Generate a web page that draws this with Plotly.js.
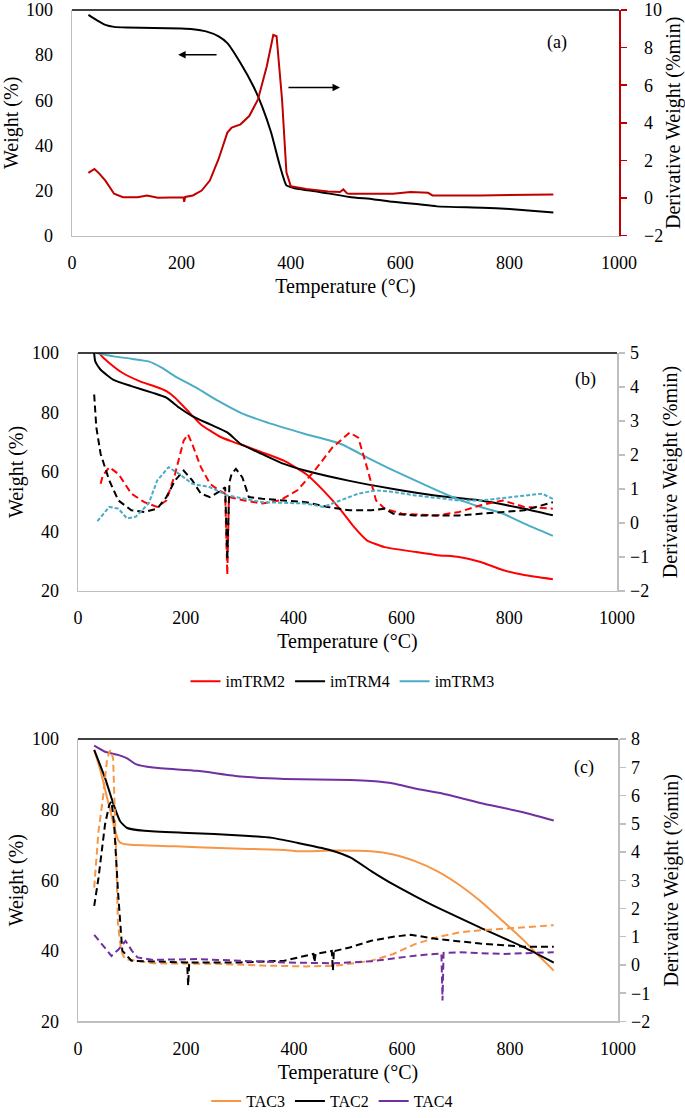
<!DOCTYPE html>
<html>
<head>
<meta charset="utf-8">
<script src="https://cdn.plot.ly/plotly-3.0.1.min.js"></script>
<style>html,body{margin:0;padding:0;background:#fff;}#chart{width:685px;height:1118px;}</style>
</head>
<body>
<div id="chart"></div>
<script>
// ---------- Panel (a) ----------
const aWeightT = [30,45,61,77,100,150,200,221,245,268,284,308,332,348,364,380,392,400,412,450,507,550,587,630,667,750,800,880];
const aWeight  = [97.8,95.5,93.4,92.5,92.2,92.0,91.8,91.5,90.5,88.3,85.3,76.5,66,57,45.7,31,22.3,21.6,20.8,19.5,17.2,16.2,15,14,13,12.4,11.8,10.3];
const aDerivT  = [30,41,50,61,77,93,120,137,157,200,204,205,207,221,237,252,268,284,292,308,324,340,356,368,374,384,392,400,428,468,490,496,503,507,587,619,651,659,747,880];
const aDeriv   = [1.34,1.55,1.3,0.93,0.23,0.05,0.05,0.14,0.02,0.04,0.04,-0.2,0.06,0.14,0.4,0.93,2.08,3.48,3.75,3.92,4.36,5.24,7.0,8.67,8.6,5.24,1.37,0.63,0.49,0.35,0.32,0.46,0.25,0.23,0.23,0.32,0.28,0.14,0.14,0.19];

// ---------- Panel (b) ----------
const bNames = ['imTRM2','imTRM4','imTRM3'];
const bRedT  = [40,42,58,83,115,147,164,180,204,228,261,285,309,342,382,423,455,488,512,536,569,625,666,707,747,788,828,881];
const bRed   = [100,99.4,96.7,93.3,90.5,88.5,87.2,85,80.5,76,72.1,70.3,68.8,66.6,63.8,59.3,53.8,47.1,41.5,37,34.7,33.1,32,31.4,29.7,27,25.3,23.9];
const bBlkT  = [30,32,42,66,99,139,164,188,212,245,277,302,342,382,423,504,585,666,747,828,881];
const bBlk   = [100,97.2,94.4,91,88.9,86.6,85,81.6,78.8,76,73.3,69.4,66,62.7,60.4,57,54.3,52,50.4,47.6,45.4];
const bCyaT  = [34,66,99,131,156,180,220,261,302,342,423,488,536,585,666,707,747,788,828,881];
const bCya   = [100,98.9,98.1,97.2,95,92.2,88.3,83.8,79.9,77.2,72.7,69.4,64.9,60.5,53.8,50.7,48.2,46,42.6,38.5];
const bRedDT = [42,46,58,75,99,123,147,164,180,196,204,212,228,245,261,273,277,280,309,342,374,407,439,472,504,520,536,553,569,601,666,707,747,788,828,881];
const bRedD  = [1.15,1.39,1.64,1.44,0.86,0.61,0.47,0.66,1.44,2.42,2.61,2.32,1.64,1.15,0.96,0.86,-1.53,0.76,0.66,0.57,0.66,0.96,1.54,2.22,2.66,2.51,1.64,0.66,0.42,0.27,0.22,0.32,0.52,0.66,0.47,0.42];
const bBlkDT = [30,34,42,58,75,99,123,147,164,180,196,212,228,245,261,273,277,281,285,293,305,317,342,423,463,504,544,569,585,625,707,788,828,881];
const bBlkD  = [3.78,2.81,2.03,1.25,0.66,0.37,0.32,0.42,0.76,1.25,1.54,1.25,0.86,0.76,0.91,1.05,-1.09,1.2,1.44,1.59,1.34,0.76,0.71,0.61,0.47,0.37,0.37,0.42,0.27,0.22,0.22,0.32,0.37,0.61];
const bCyaDT = [36,58,75,91,107,131,147,168,188,212,245,277,342,423,455,488,520,553,585,625,707,747,828,861,881];
const bCyaD  = [0.05,0.47,0.42,0.13,0.18,0.57,1.25,1.64,1.44,1.15,1.05,0.81,0.61,0.57,0.47,0.66,0.86,0.96,0.91,0.81,0.66,0.66,0.81,0.86,0.71];

// ---------- Panel (c) ----------
const cNames = ['TAC3','TAC2','TAC4'];
const cOrgT  = [30,42,54,66,74,80,91,180,261,382,406,471,543,584,624,665,705,745,786,826,850,881];
const cOrg   = [96.9,90.8,83.3,75.8,71.5,70.5,70.1,69.6,69.1,68.6,68.2,68.4,68.2,67.3,65.4,62.6,58.8,54.1,48.5,42.9,39.1,34.4];
const cBlkT  = [30,50,66,78,91,123,204,301,360,406,463,505,543,584,624,665,745,826,881];
const cBlk   = [96.9,89,81.4,76.7,74.8,74,73.4,72.7,72,70.6,68.7,66.4,62.6,58.8,55.5,52.3,46.6,41,36.7];
const cPurT  = [30,50,74,91,107,139,220,301,382,505,543,584,624,671,745,826,881];
const cPur   = [98.1,96.4,95.5,94.5,92.9,91.9,91,89.4,88.7,88.4,88.1,87.4,86,84.7,81.9,79.2,76.9];
const cOrgDT = [30,38,47,54,60,65,70,74,80,87,139,261,341,422,479,543,584,624,665,705,745,826,881];
const cOrgD  = [2.74,4.74,6.03,7.32,7.61,7.32,4.38,1.45,0.5,0.21,0.06,0.04,-0.02,-0.05,-0.02,0.15,0.39,0.74,0.98,1.15,1.23,1.33,1.41];
const cBlkDT = [30,38,50,58,62,67,74,82,99,196,202,204,206,212,301,382,422,436,438,440,470,472,474,476,503,543,584,616,665,745,826,881];
const cBlkD  = [2.09,3.09,4.97,5.68,5.79,4.97,2.62,0.51,0.15,0.09,0.09,-0.73,0.09,0.09,0.09,0.15,0.33,0.39,0.1,0.39,0.5,-0.2,0.55,0.5,0.62,0.86,1.0,1.07,0.92,0.76,0.65,0.65];
const cPurDT = [30,45,62,75,88,100,110,139,220,301,382,471,543,624,671,673,675,677,705,786,881];
const cPurD  = [1.07,0.7,0.32,0.55,0.85,0.5,0.27,0.18,0.21,0.15,0.09,0.06,0.13,0.33,0.41,0.41,-1.26,0.43,0.45,0.39,0.45];

const xTicks = [0,200,400,600,800,1000];
const FONT = 'Liberation Serif';
const GRAY = '#bfbfbf';

function solid(x, y, color, xa, ya, name, legend, show) {
  return {x:x, y:y, xaxis:xa, yaxis:ya, type:'scatter', mode:'lines', name:name,
    line:{color:color, width:2, shape:'spline', smoothing:0.5},
    showlegend:!!show, legend:legend, hoverinfo:'skip'};
}
function dashed(x, y, color, xa, ya, dash) {
  return {x:x, y:y, xaxis:xa, yaxis:ya, type:'scatter', mode:'lines',
    line:{color:color, width:2, dash:dash || '7px,4px'}, showlegend:false, hoverinfo:'skip'};
}

const traces = [
  solid(aWeightT, aWeight, '#000000', 'x', 'y', 'Weight', 'legend', false),
  {x:aDerivT, y:aDeriv, xaxis:'x', yaxis:'y2', type:'scatter', mode:'lines',
    line:{color:'#c00000', width:2}, showlegend:false, hoverinfo:'skip'},

  dashed(bRedDT, bRedD, '#ff0000', 'x2', 'y4'),
  dashed(bBlkDT, bBlkD, '#000000', 'x2', 'y4'),
  dashed(bCyaDT, bCyaD, '#4bacc6', 'x2', 'y4', '4px,2px'),
  solid(bRedT, bRed, '#ff0000', 'x2', 'y3', bNames[0], 'legend', true),
  solid(bBlkT, bBlk, '#000000', 'x2', 'y3', bNames[1], 'legend', true),
  solid(bCyaT, bCya, '#4bacc6', 'x2', 'y3', bNames[2], 'legend', true),

  dashed(cOrgDT, cOrgD, '#f79646', 'x3', 'y6'),
  dashed(cBlkDT, cBlkD, '#000000', 'x3', 'y6'),
  dashed(cPurDT, cPurD, '#7030a0', 'x3', 'y6'),
  solid(cOrgT, cOrg, '#f79646', 'x3', 'y5', cNames[0], 'legend2', true),
  solid(cBlkT, cBlk, '#000000', 'x3', 'y5', cNames[1], 'legend2', true),
  solid(cPurT, cPur, '#7030a0', 'x3', 'y5', cNames[2], 'legend2', true)
];

function xAxis(domain, anchor) {
  return {domain:domain, anchor:anchor, range:[0,1000], tickvals:xTicks, showgrid:false, zeroline:false,
    showline:true, linecolor:GRAY, linewidth:1.5, ticks:'', ticklabelstandoff:10,
    tickfont:{family:FONT, size:18, color:'#000'},
    title:{text:'Temperature (°C)', font:{family:FONT, size:20, color:'#000'}, standoff:7}};
}
function yLeft(domain, anchor, range, dtick) {
  return {domain:domain, anchor:anchor, range:range, dtick:dtick, showgrid:false, zeroline:false,
    showline:true, linecolor:GRAY, linewidth:1.5, ticks:'', ticklabelstandoff:14,
    tickfont:{family:FONT, size:18, color:'#000'},
    title:{text:'Weight (%)', font:{family:FONT, size:20, color:'#000'}, standoff:3}};
}
function yRight(over, anchor, range, dtick, color, standoff, tstand) {
  return {overlaying:over, anchor:anchor, side:'right', range:range, dtick:dtick, showgrid:false, zeroline:false,
    showline:true, linecolor:color, linewidth:1.5, ticks:'outside', ticklen:6, tickcolor:color, tickwidth:1.5,
    ticklabelstandoff:standoff,
    tickfont:{family:FONT, size:18, color:'#000'},
    title:{text:'Derivative Weight (%min)', font:{family:FONT, size:20, color:'#000'}, standoff:tstand}};
}

function topLine(xa, ya) {
  return {type:'line', xref:xa + ' domain', yref:ya + ' domain', x0:0, x1:1, y0:1, y1:1,
    line:{color:'#000', width:1.5}};
}

const layout = {
  width:685, height:1118, margin:{l:0, r:0, t:0, b:0}, paper_bgcolor:'#fff', plot_bgcolor:'#fff',
  font:{family:FONT, color:'#000'},
  xaxis:  xAxis([72/685, 619/685], 'y'),
  yaxis:  yLeft([1-237/1118, 1-10/1118], 'x', [0,100], 20),
  yaxis2: yRight('y', 'x', [-2,10], 2, '#c00000', 14, 9),
  xaxis2: xAxis([78/685, 617/685], 'y3'),
  yaxis3: yLeft([1-594/1118, 1-355/1118], 'x2', [20,100], 20),
  yaxis4: yRight('y3', 'x2', [-2,5], 1, GRAY, 2, 14),
  xaxis3: xAxis([78/685, 618/685], 'y5'),
  yaxis5: yLeft([1-1027/1118, 1-743/1118], 'x3', [20,100], 20),
  yaxis6: yRight('y5', 'x3', [-2,8], 1, GRAY, 2, 14),
  legend:  {orientation:'h', x:0.5, xanchor:'center', y:1-685/1118, yanchor:'middle',
            font:{family:FONT, size:16, color:'#000'}, bgcolor:'rgba(0,0,0,0)', itemwidth:30},
  legend2: {orientation:'h', x:0.485, xanchor:'center', y:1-1107/1118, yanchor:'middle',
            font:{family:FONT, size:16, color:'#000'}, bgcolor:'rgba(0,0,0,0)', itemwidth:30},
  shapes: [topLine('x','y'), topLine('x2','y3'), topLine('x3','y5')],
  annotations: [
    {xref:'x', yref:'y', x:887, y:85.5, text:'(a)', showarrow:false, font:{family:FONT, size:18, color:'#000'}},
    {xref:'x2', yref:'y3', x:941, y:91, text:'(b)', showarrow:false, font:{family:FONT, size:18, color:'#000'}},
    {xref:'x3', yref:'y5', x:937, y:92, text:'(c)', showarrow:false, font:{family:FONT, size:18, color:'#000'}},
    {xref:'x', yref:'y', x:194, y:80.2, axref:'x', ayref:'y', ax:267, ay:80.2, text:'', showarrow:true,
      arrowhead:2, arrowsize:1, arrowwidth:1.5, arrowcolor:'#000'},
    {xref:'x', yref:'y', x:490, y:65.6, axref:'x', ayref:'y', ax:393, ay:65.6, text:'', showarrow:true,
      arrowhead:2, arrowsize:1, arrowwidth:1.5, arrowcolor:'#000'}
  ]
};

Plotly.newPlot('chart', traces, layout, {staticPlot:true, displayModeBar:false});
</script>
</body>
</html>
